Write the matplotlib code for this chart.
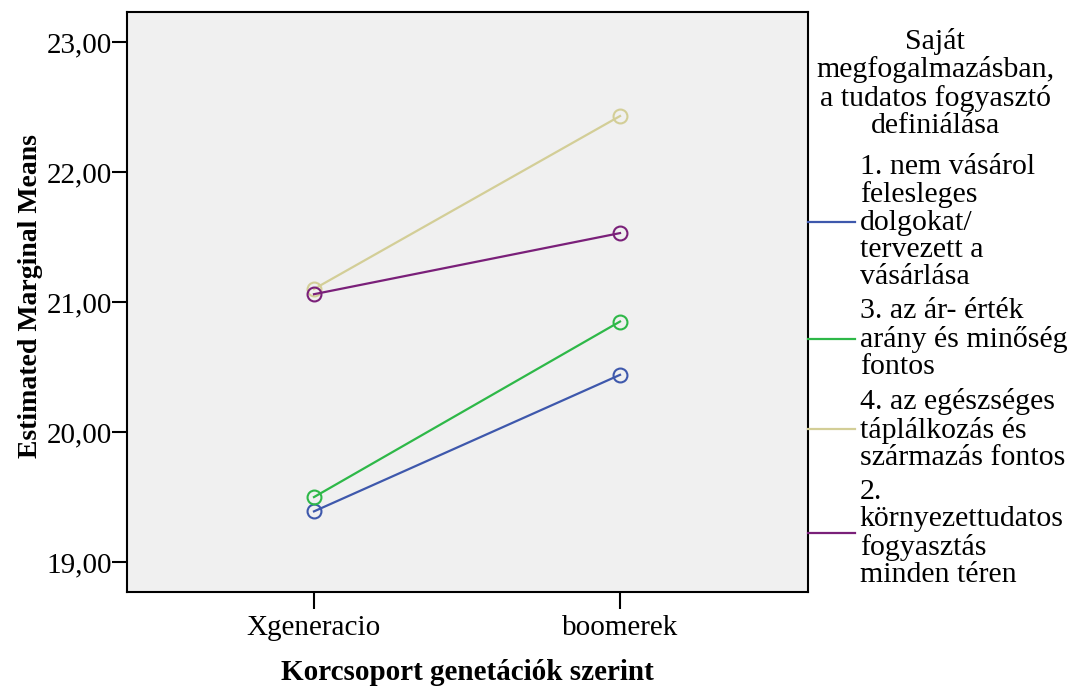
import matplotlib.pyplot as plt
from matplotlib.lines import Line2D

plt.rcParams['font.family'] = ['Liberation Serif', 'DejaVu Serif']

# 数据
groups = ['Xgeneracio', 'boomerek']
series_labels = [
    '1. nem vásárol\nfelesleges\ndolgokat/\ntervezett a\nvásárlása',
    '3. az ár- érték\narány és minőség\nfontos',
    '4. az egészséges\ntáplálkozás és\nszármazás fontos',
    '2.\nkörnyezettudatos\nfogyasztás\nminden téren',
]
blue_vals = [19.39, 20.44]
green_vals = [19.50, 20.85]
beige_vals = [21.10, 22.43]
purple_vals = [21.06, 21.53]
y_ticks = [19, 20, 21, 22, 23]
legend_title = 'Saját\nmegfogalmazásban,\na tudatos fogyasztó\ndefiniálása'

series_values = [blue_vals, green_vals, beige_vals, purple_vals]
colors = ['#3E58AC', '#2EB848', '#D3CE97', '#7A2079']

fig = plt.figure(figsize=(10.68, 6.86), dpi=100)
ax = fig.add_axes([0.1189, 0.137, 0.6376, 0.8455])
ax.set_facecolor('#F0F0F0')

x = list(range(len(groups)))
handles = []
for vals, lab, c in zip(series_values, series_labels, colors):
    ax.plot(x, vals, color=c, linewidth=1.6, marker='o', markersize=10,
            markerfacecolor='none', markeredgewidth=1.5)
    handles.append(Line2D([], [], color=c, linewidth=1.6, label=lab))

ax.set_xlim(-0.611, 1.614)
ax.set_ylim(18.77, 23.23)
ax.set_xticks(x)
ax.set_xticklabels(groups)
ax.set_yticks(y_ticks)
ax.set_yticklabels([f'{v:.2f}'.replace('.', ',') for v in y_ticks])
ax.tick_params(axis='both', direction='out', width=1.5,
               labelsize=21, colors='black')
ax.tick_params(axis='y', length=10.5, pad=0.5)
ax.tick_params(axis='x', length=12.5, pad=4)

for s in ax.spines.values():
    s.set_linewidth(1.5)
    s.set_color('black')

ax.set_xlabel('Korcsoport genetációk szerint', fontsize=21, fontweight='bold')
ax.xaxis.set_label_coords(0.5, -0.138)
ax.xaxis.label.set_verticalalignment('center')
ax.set_ylabel('Estimated Marginal Means', fontsize=20, fontweight='bold')
ax.yaxis.set_label_coords(-0.142, 0.51)
ax.yaxis.label.set_verticalalignment('center')

# 图例标题
fig.text(935 / 1068, 1 - 28 / 686, legend_title, ha='center', va='top',
         multialignment='center', fontsize=21.5, linespacing=1.067)

leg = ax.legend(handles=handles, loc='upper left',
                bbox_to_anchor=(1.0, 1 - 142 / 580), frameon=False,
                fontsize=21.5, handlelength=1.57, handletextpad=0.17,
                borderaxespad=0, borderpad=0, labelspacing=0.27)
for t in leg.get_texts():
    t.set_linespacing(1.067)

fig.savefig('out.png', dpi=100)
